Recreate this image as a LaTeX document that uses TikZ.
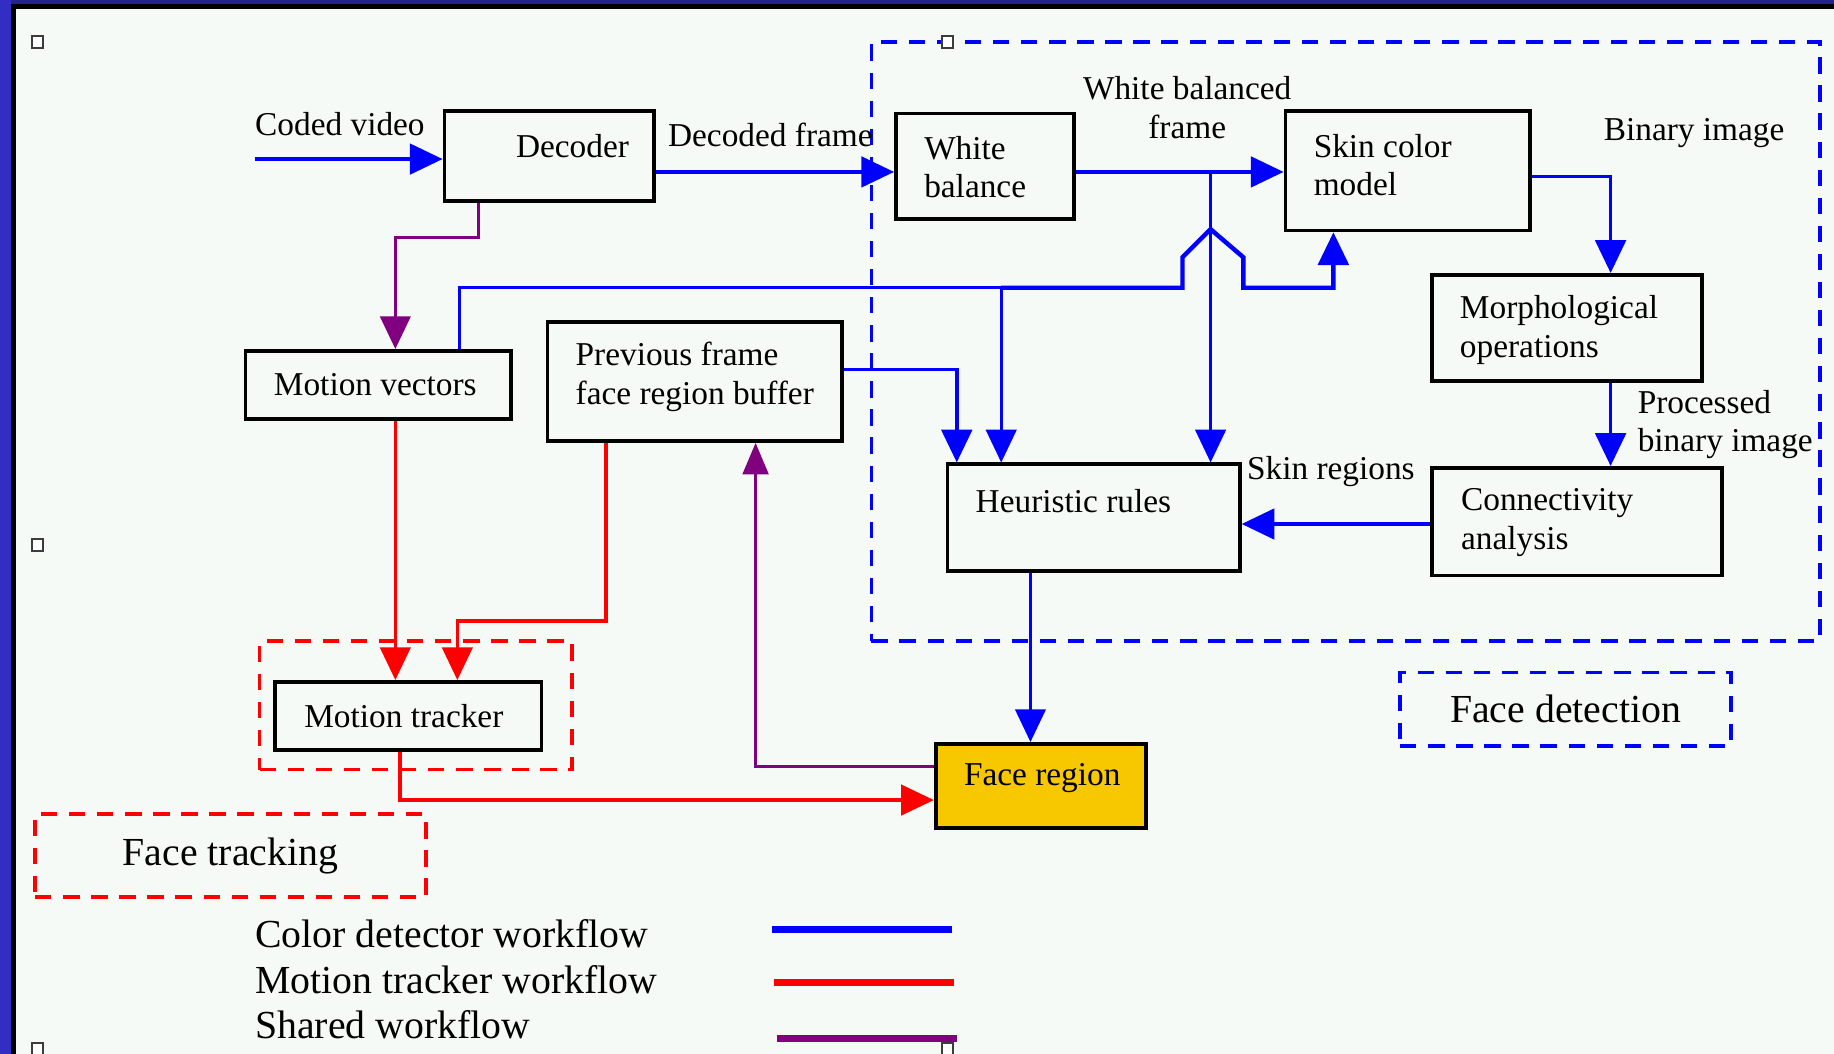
\documentclass[tikz,border=0pt]{standalone}
\usepackage{fontspec}
\setmainfont{Liberation Serif}
\usepackage{xcolor}
\usepackage{tikz}
\usetikzlibrary{arrows.meta}
\usetikzlibrary{calc}
\usetikzlibrary{positioning}
\definecolor{paper}{RGB}{246,250,247}
\definecolor{bandleft}{RGB}{50,45,195}
\definecolor{bandtop}{RGB}{38,36,140}
\definecolor{shared}{RGB}{128,0,128}
\definecolor{facegold}{RGB}{247,200,0}
\definecolor{handlegray}{RGB}{60,60,60}

\begin{document}
\begin{tikzpicture}[x=1pt,y=-1pt,>={Triangle[length=28pt,width=26pt]},line join=miter]
	\tikzstyle{blk}=[draw, line width=3.2pt, rectangle, inner sep=0pt]
	\tikzstyle{txt}=[inner sep=0pt, anchor=west, align=left, font=\fontsize{28.5}{33}\selectfont]
	\tikzstyle{big}=[font=\fontsize{34}{40}\selectfont]
	\tikzstyle{bline}=[draw=blue, line width=3.2pt]
	\tikzstyle{rline}=[draw=red, line width=2.8pt]
	\tikzstyle{pline}=[draw=shared, line width=2.6pt]
	\tikzstyle{bdash}=[draw=blue, line width=3.2pt, dash pattern=on 14pt off 10pt]
	\tikzstyle{rdash}=[draw=red, line width=3pt, dash pattern=on 14pt off 10pt]
	\tikzstyle{handle}=[draw=handlegray, line width=1.6pt, fill=white]

	% page and window frame
	\useasboundingbox (0,0) rectangle (1568,901);
	\fill[paper] (0,0) rectangle (1568,901);
	\fill[bandleft] (0,0) rectangle (9.4,901);
	\fill[bandtop] (9.4,0) rectangle (1568,3.4);
	\fill[black] (9.4,3.4) rectangle (13.7,901);
	\fill[black] (13.7,3.4) rectangle (1568,7.7);

	% group outlines
	\node[bdash, minimum width=811pt, minimum height=512pt] (fd) at (1150.5,292) {};
	\node[rdash, minimum width=267pt, minimum height=110pt] (ft) at (355.5,603) {};
	\node[bdash, big, minimum width=283pt, minimum height=63pt] (fdl) at (1338.5,606.5) {Face detection};
	\node[rdash, big, minimum width=334pt, minimum height=71pt] (ftl) at (197,731.5) {Face tracking};

	% blocks
	\node[blk, minimum width=179pt, minimum height=77pt] (dec) at (469.5,133.5) {};
	\node[blk, minimum width=152pt, minimum height=90pt] (wb) at (842,142) {};
	\node[blk, minimum width=209pt, minimum height=102pt] (scm) at (1203.5,146) {};
	\node[blk, minimum width=231pt, minimum height=91pt] (mor) at (1339.5,280.5) {};
	\node[blk, minimum width=248pt, minimum height=92pt] (con) at (1348,446) {};
	\node[blk, minimum width=250pt, minimum height=91pt] (heu) at (935,442.5) {};
	\node[blk, minimum width=227pt, minimum height=58pt] (mv) at (323.5,329) {};
	\node[blk, minimum width=252pt, minimum height=102pt] (buf) at (594,326) {};
	\node[blk, minimum width=228pt, minimum height=58pt] (mt) at (349,612) {};
	\node[blk, fill=facegold, minimum width=180pt, minimum height=72pt] (face) at (890,672) {};

	% block texts
	\node[txt] (dect) at (441,125) {Decoder};
	\node[txt] (wbt) at (790,143) {White\\balance};
	\node[txt] (scmt) at (1123,141) {Skin color\\model};
	\node[txt] (mort) at (1248,282) {Morphological\\operations};
	\node[txt] (cont) at (1249,447) {Connectivity\\analysis};
	\node[txt] (heut) at (834,428) {Heuristic rules};
	\node[txt] (mvt) at (234,329) {Motion vectors};
	\node[txt] (buft) at (492,322) {Previous frame\\face region buffer};
	\node[txt] (mtt) at (260,612) {Motion tracker};
	\node[txt] (facet) at (824,665) {Face region};

	% connector labels
	\node[txt] (lcv) at (218,106) {Coded video};
	\node[txt] (ldf) at (571,115) {Decoded frame};
	\node[txt, anchor=center, align=center] (lwbf) at (1015,92) {White balanced\\frame};
	\node[txt] (lbi) at (1371,114) {Binary image};
	\node[txt] (lpbi) at (1400,363) {Processed\\binary image};
	\node[txt] (lsr) at (1066,403) {Skin regions};

	% color detector workflow
	\coordinate (cin) at (218,136);
	\coordinate (yDF) at (0,147);
	\coordinate (jA) at (1035,147);
	\coordinate (hA) at (393,246);
	\coordinate (hB) at (856,246);
	\coordinate (kA) at (818,316);
	\coordinate (kB) at (1377,151);
	\coordinate (kC) at (0,448);
	\coordinate (kD) at (881,0);
	\draw[bline,->] (cin) -- (cin -| dec.west);
	\draw[bline,->] (dec.east |- yDF) -- (wb.west |- yDF);
	\draw[bline,->] (wb.east |- jA) -- (jA) -- (scm.west |- jA);
	\draw[bline,line width=2.6pt,->] (jA) -- (jA |- heu.north);
	\draw[bline,line width=2.6pt] (hA |- mv.north) -- (hA) -- (hB);
	\draw[bline,line width=3.8pt,->] (hB) -- (1011,246) -- (1011,220) -- (1035,196) -- (1063,220) -- (1063,246) -- (1140,246) -- (1140,246 |- scm.south);
	\draw[bline,line width=2.6pt,->] (hB) -- (hB |- heu.north);
	\draw[bline,->] (buf.east |- kA) -- (kA) -- (kA |- heu.north);
	\draw[bline,->] (scm.east |- kB) -- (kB) -- (kB |- mor.north);
	\draw[bline,->] (kB |- mor.south) -- (kB |- con.north);
	\draw[bline,->] (con.west |- kC) -- (heu.east |- kC);
	\draw[bline,line width=2.6pt,->] (kD |- heu.south) -- (kD |- face.north);

	% motion tracker and shared workflow
	\coordinate (pA) at (409,203);
	\coordinate (pB) at (338,203);
	\coordinate (pC) at (646,655);
	\coordinate (rA) at (518,531);
	\coordinate (rB) at (391,531);
	\coordinate (rC) at (342,684);
	\draw[pline,->] (pA |- dec.south) -- (pA) -- (pB) -- (pB |- mv.north);
	\draw[rline,->] (pB |- mv.south) -- (pB |- mt.north);
	\draw[rline,->] (rA |- buf.south) -- (rA) -- (rB) -- (rB |- mt.north);
	\draw[rline,->] (rC |- mt.south) -- (rC) -- (face.west |- rC);
	\draw[pline,-{Triangle[length=27pt,width=22pt]}] (face.west |- pC) -- (pC) -- (pC |- buf.south);

	% legend
	\node[txt, big] (lg1) at (218,798) {Color detector workflow};
	\node[txt, big] (lg2) at (218,838) {Motion tracker workflow};
	\node[txt, big] (lg3) at (218,876) {Shared workflow};
	\draw[blue, line width=6pt] (660,795) -- (814,795);
	\draw[red, line width=6pt] (662,840) -- (816,840);
	\draw[shared, line width=6pt] (664,888) -- (818,888);

	% selection handles
	\foreach \hx/\hy in {32/36, 32/466, 32/897, 810/36, 810/897}
		\draw[handle] (\hx-5,\hy-5) rectangle (\hx+5,\hy+5);
\end{tikzpicture}
\end{document}
